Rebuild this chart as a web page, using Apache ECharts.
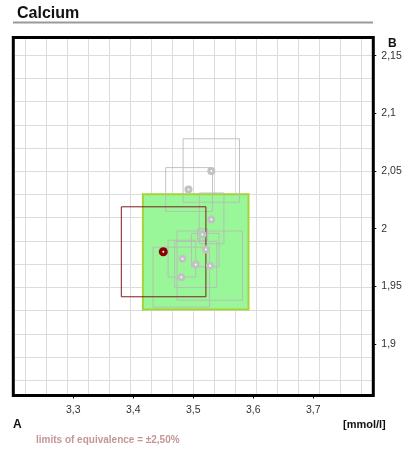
<!DOCTYPE html>
<html>
<head>
<meta charset="utf-8">
<script src="https://cdn.jsdelivr.net/npm/echarts@6/dist/echarts.min.js"></script>
<style>
html,body{margin:0;padding:0;background:#fff;}
#chart{width:408px;height:450px;}
</style>
</head>
<body>
<div id="chart"></div>
<script>
// ---- data ----
const xTickValues = [3.3, 3.4, 3.5, 3.6, 3.7];
const yTickValues = [1.9, 1.95, 2.0, 2.05, 2.1, 2.15];
const targetBoxX = [3.416, 3.592];
const targetBoxY = [1.930, 2.030];
const refPointX = [3.450];
const refPointY = [1.980];
const refBoxX = [3.380, 3.521];
const refBoxY = [1.941, 2.019];
const ptX = [3.530, 3.492, 3.530, 3.515, 3.521, 3.482, 3.504, 3.528, 3.480];
const ptY = [2.050, 2.034, 2.008, 1.995, 1.982, 1.974, 1.969, 1.968, 1.958];
const boxXLo = [3.483, 3.454, 3.510, 3.507, 3.497, 3.458, 3.469, 3.473, 3.433];
const boxXHi = [3.577, 3.532, 3.551, 3.524, 3.543, 3.504, 3.539, 3.582, 3.527];
const boxYLo = [2.023, 2.015, 1.987, 1.990, 1.967, 1.958, 1.949, 1.938, 1.932];
const boxYHi = [2.078, 2.053, 2.031, 2.000, 1.996, 1.990, 1.989, 1.998, 1.984];

const fmt = v => String(+(+v).toFixed(2)).replace('.', ',');
const FONT = '"Liberation Sans", Arial, sans-serif';

function rectRenderer(style) {
  return function (params, api) {
    const p1 = api.coord([api.value(0), api.value(3)]);
    const p2 = api.coord([api.value(1), api.value(2)]);
    return {
      type: 'rect',
      shape: { x: p1[0], y: p1[1], width: p2[0] - p1[0], height: p2[1] - p1[1] },
      style: style
    };
  };
}

const grayBoxes = ptX.map((_, i) => [boxXLo[i], boxXHi[i], boxYLo[i], boxYHi[i]]);
const grayPts = ptX.map((x, i) => [x, ptY[i]]);
const redPts = refPointX.map((x, i) => [x, refPointY[i]]);

const chart = echarts.init(document.getElementById('chart'), null, { renderer: 'canvas' });

const hiddenAxis = (extra) => Object.assign({
  type: 'value', axisLine: { show: false, onZero: false }, axisTick: { show: false },
  axisLabel: { show: false }, splitLine: { show: false }
}, extra);

chart.setOption({
  animation: false,
  backgroundColor: '#fff',
  title: {
    text: 'Calcium', left: 12, top: 1,
    textStyle: { fontSize: 16, fontWeight: 'bold', color: '#111', fontFamily: FONT }
  },
  grid: [
    { left: 13.3, top: 37.5, width: 360, height: 358, show: true, borderColor: '#000', borderWidth: 3, backgroundColor: 'transparent', z: 1 },
    { left: 25.3, top: 39, width: 336, height: 355, show: false },
    { left: 15, top: 55.2, width: 357, height: 325, show: false },
    { left: 13.3, top: 55.7, width: 360, height: 288.3, show: false }
  ],
  xAxis: [
    { gridIndex: 0, type: 'value', min: 3.2, max: 3.8, interval: 0.1, position: 'bottom',
      axisLine: { show: false, onZero: false },
      axisTick: { show: true, length: 3, lineStyle: { color: '#000', width: 1 } },
      axisLabel: { show: true, margin: 9, fontSize: 10.5, color: '#333', fontFamily: FONT,
        showMinLabel: false, showMaxLabel: false, formatter: fmt },
      splitLine: { show: false } },
    hiddenAxis({ gridIndex: 1, min: 0, max: 16, interval: 1,
      splitLine: { show: true, lineStyle: { color: '#dcdcdc', width: 1 } } }),
    hiddenAxis({ gridIndex: 2, min: 0, max: 1 }),
    hiddenAxis({ gridIndex: 3, min: 0, max: 1 })
  ],
  yAxis: [
    hiddenAxis({ gridIndex: 0, min: 1.8554, max: 2.1658 }),
    hiddenAxis({ gridIndex: 1, min: 0, max: 1 }),
    hiddenAxis({ gridIndex: 2, min: 0, max: 14, interval: 1,
      splitLine: { show: true, lineStyle: { color: '#dcdcdc', width: 1 } } }),
    { gridIndex: 3, type: 'value', position: 'right', min: 1.9, max: 2.15, interval: 0.05,
      axisLine: { show: false, onZero: false },
      axisTick: { show: true, length: 3, lineStyle: { color: '#000', width: 1 } },
      axisLabel: { show: true, margin: 8, fontSize: 10.5, color: '#333', fontFamily: FONT, formatter: fmt },
      splitLine: { show: false } }
  ],
  series: [
    { type: 'custom', xAxisIndex: 0, yAxisIndex: 0, z: 2,
      renderItem: rectRenderer({ fill: '#99f799', stroke: '#a5d33a', lineWidth: 2 }),
      data: [[targetBoxX[0], targetBoxX[1], targetBoxY[0], targetBoxY[1]]] },
    { type: 'custom', xAxisIndex: 0, yAxisIndex: 0, z: 3,
      renderItem: rectRenderer({ fill: 'none', stroke: 'rgba(185,185,185,0.85)', lineWidth: 1 }),
      data: grayBoxes },
    { type: 'custom', xAxisIndex: 0, yAxisIndex: 0, z: 4,
      renderItem: rectRenderer({ fill: 'none', stroke: '#7e1d1d', lineWidth: 1 }),
      data: [[refBoxX[0], refBoxX[1], refBoxY[0], refBoxY[1]]] },
    { type: 'scatter', xAxisIndex: 0, yAxisIndex: 0, z: 5, symbolSize: 8,
      itemStyle: { color: '#c2c2c2', opacity: 1 }, data: grayPts, silent: true },
    { type: 'scatter', xAxisIndex: 0, yAxisIndex: 0, z: 6, symbolSize: 2,
      itemStyle: { color: '#ffffff', opacity: 1 }, data: grayPts, silent: true },
    { type: 'scatter', xAxisIndex: 0, yAxisIndex: 0, z: 7, symbolSize: 9,
      itemStyle: { color: '#8b0000', opacity: 1 }, data: redPts, silent: true },
    { type: 'scatter', xAxisIndex: 0, yAxisIndex: 0, z: 8, symbolSize: 2,
      itemStyle: { color: '#ffffff', opacity: 1 }, data: redPts, silent: true }
  ],
  graphic: [
    { type: 'line', shape: { x1: 13, y1: 22.5, x2: 373, y2: 22.5 },
      style: { stroke: '#9a9a9a', lineWidth: 2 } },
    { type: 'text', left: 388, top: 38,
      style: { text: 'B', font: 'bold 12px ' + FONT, fill: '#111' } },
    { type: 'text', left: 13, top: 419,
      style: { text: 'A', font: 'bold 12px ' + FONT, fill: '#111' } },
    { type: 'text', left: 343, top: 419,
      style: { text: '[mmol/l]', font: 'bold 11px ' + FONT, fill: '#111' } },
    { type: 'text', left: 36, top: 435,
      style: { text: 'limits of equivalence = \u00b12,50%', font: 'bold 10px ' + FONT, fill: '#c49696' } }
  ]
});
</script>
</body>
</html>
